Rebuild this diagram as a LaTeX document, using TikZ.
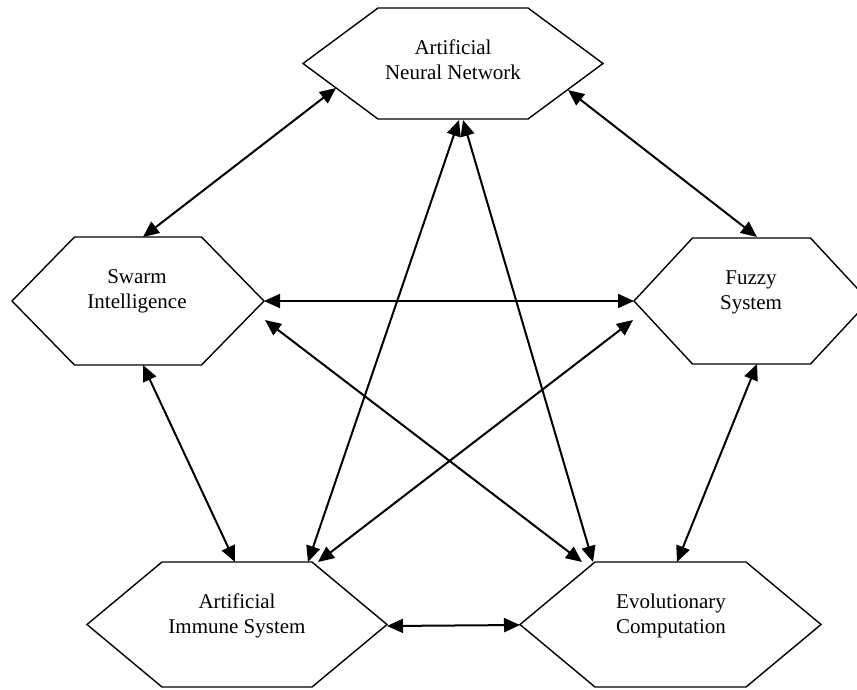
\documentclass[tikz,border=0pt]{standalone}
\usepackage{fontspec}
\setmainfont{Liberation Serif}
\usetikzlibrary{arrows.meta}
\tikzset{
  hexline/.style={draw=black, line width=1.4pt, line join=miter},
  label/.style={align=center, font=\fontsize{21}{25}\selectfont, inner sep=0pt},
  link/.style={line width=2pt, {Triangle[length=16pt,width=14pt]}-{Triangle[length=16pt,width=14pt]}}
}
\newcommand\hexpath[5]{% cx cy halfwidth halftop halfheight
  \draw[hexline] (#1-#3,#2) -- (#1-#4,#2-#5) -- (#1+#4,#2-#5) -- (#1+#3,#2)
    -- (#1+#4,#2+#5) -- (#1-#4,#2+#5) -- cycle;}
\begin{document}
\begin{tikzpicture}[x=1pt,y=-1pt]
\useasboundingbox (0,0) rectangle (857,689);
\clip (0,0) rectangle (857,689);
% hexagons
\hexpath{453}{63.5}{150}{75}{55.5}
\hexpath{138}{301}{126}{63.5}{64}
\hexpath{751.5}{301}{117.5}{59}{63}
\hexpath{237}{624.5}{150}{75}{62.5}
\hexpath{670.5}{624.5}{150.5}{75.5}{62.5}
% labels
\node[label] (ann) at (453,60) {Artificial\\Neural Network};
\node[label] (swarm) at (137,291) {Swarm\\Intelligence};
\node[label] (fuzzy) at (751,292) {Fuzzy\\System};
\node[label] (ais) at (237,616) {Artificial\\Immune System};
\node[label] (ec) at (671,616) {Evolutionary\\Computation};
% connector ends
\coordinate (ann-sw) at (336,88);
\coordinate (ann-se) at (568,90);
\coordinate (ann-b1) at (459,120);
\coordinate (ann-b2) at (463,120);
\coordinate (sw-t) at (143,237);
\coordinate (sw-r) at (264,301);
\coordinate (sw-rb) at (265,320);
\coordinate (sw-b) at (143,365);
\coordinate (fz-t) at (757,237);
\coordinate (fz-l) at (634,301);
\coordinate (fz-lb) at (633,320);
\coordinate (fz-b) at (757,364);
\coordinate (ais-t1) at (235,562);
\coordinate (ais-t2) at (308,562);
\coordinate (ais-t3) at (318,562);
\coordinate (ais-r) at (387,626);
\coordinate (ec-l) at (520,625);
\coordinate (ec-t1) at (582,562);
\coordinate (ec-t2) at (593,562);
\coordinate (ec-t3) at (677,562);
% connectors
\draw[link] (sw-t) -- (ann-sw);
\draw[link] (ann-se) -- (fz-t);
\draw[link] (sw-r) -- (fz-l);
\draw[link] (sw-rb) -- (ec-t1);
\draw[link] (fz-lb) -- (ais-t3);
\draw[link] (sw-b) -- (ais-t1);
\draw[link] (fz-b) -- (ec-t3);
\draw[link] (ais-r) -- (ec-l);
\draw[link] (ann-b1) -- (ais-t2);
\draw[link] (ann-b2) -- (ec-t2);
\end{tikzpicture}
\end{document}
